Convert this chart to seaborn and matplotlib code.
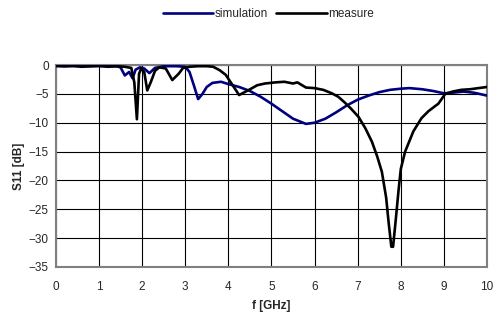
import numpy as np
import pandas as pd
import seaborn as sns
import matplotlib
matplotlib.use("Agg")
import matplotlib.pyplot as plt

# simulation curve (f in GHz, S11 in dB)
sim_f = [0.0, 0.5, 1.0, 1.4, 1.5, 1.6, 1.7, 1.78, 1.85, 1.95, 2.05, 2.17, 2.3, 2.5,
         2.8, 3.0, 3.1, 3.2, 3.3, 3.4, 3.5, 3.63, 3.83, 4.0, 4.25, 4.5, 4.75, 5.0,
         5.25, 5.5, 5.8, 6.0, 6.25, 6.5, 6.75, 7.0, 7.25, 7.5, 7.75, 8.0, 8.2,
         8.5, 8.75, 9.0, 9.2, 9.45, 9.7, 10.0]
sim_db = [-0.2, -0.2, -0.2, -0.2, -0.4, -1.8, -1.2, -2.3, -0.8, -0.4, -0.6, -1.4,
          -0.5, -0.2, -0.2, -0.3, -1.2, -3.5, -5.9, -5.0, -3.8, -3.1, -2.9, -3.3,
          -3.8, -4.5, -5.5, -6.7, -8.0, -9.3, -10.2, -10.0, -9.3, -8.2, -7.0, -6.0,
          -5.3, -4.7, -4.3, -4.1, -4.0, -4.2, -4.5, -4.9, -4.8, -4.6, -4.8, -5.3]

# measured curve
meas_f = [0.0, 0.2, 0.4, 0.6, 0.8, 1.0, 1.2, 1.4, 1.6, 1.75, 1.82, 1.88, 1.93,
          1.98, 2.05, 2.12, 2.2, 2.3, 2.4, 2.55, 2.7, 2.85, 2.95, 3.1, 3.3, 3.5,
          3.65, 3.8, 3.94, 4.1, 4.25, 4.48, 4.67, 4.85, 5.1, 5.3, 5.5, 5.6, 5.8,
          6.0, 6.2, 6.4, 6.55, 6.7, 6.85, 7.02, 7.18, 7.33, 7.45, 7.56, 7.66,
          7.72, 7.78, 7.82, 7.88, 7.95, 8.0, 8.1, 8.29, 8.48, 8.64, 8.78, 8.87,
          9.03, 9.2, 9.4, 9.6, 9.8, 10.0]
meas_db = [-0.1, -0.2, -0.1, -0.3, -0.2, -0.1, -0.3, -0.2, -0.3, -0.5, -3.0, -9.4,
           -1.5, -0.6, -1.2, -4.4, -3.0, -1.0, -0.4, -0.6, -2.6, -1.5, -0.5, -0.3,
           -0.2, -0.2, -0.3, -0.9, -1.7, -3.5, -5.2, -4.3, -3.5, -3.2, -3.0, -2.9,
           -3.2, -3.0, -3.9, -4.0, -4.3, -4.9, -5.5, -6.5, -7.6, -9.0, -11.0,
           -13.3, -15.8, -18.5, -23.0, -27.5, -31.5, -31.5, -27.0, -21.5, -18.0,
           -15.0, -11.5, -9.2, -8.0, -7.2, -6.7, -5.0, -4.6, -4.3, -4.2, -4.0, -3.8]

df = pd.concat([
    pd.DataFrame({"f": sim_f, "S11": sim_db, "series": "simulation"}),
    pd.DataFrame({"f": meas_f, "S11": meas_db, "series": "measure"}),
])

sns.set_style("white")
plt.rcParams['font.family'] = ['Liberation Sans', 'DejaVu Sans']
fs = 8.5

fig = plt.figure(figsize=(4.94, 3.22), dpi=100)
ax = fig.add_axes([0.113, 0.171, 0.873, 0.627])

sns.lineplot(data=df, x="f", y="S11", hue="series", sort=False, estimator=None,
             palette={"simulation": "#000080", "measure": "#000000"},
             linewidth=1.9, ax=ax, legend=False, zorder=3)

ax.set_xlim(0, 10)
ax.set_ylim(-35, 0)
ax.set_xticks(range(0, 11))
ax.set_yticks(range(-35, 1, 5))
ax.grid(True, color="black", linewidth=0.8)
for s in ax.spines.values():
    s.set_color("#808080")
    s.set_linewidth(1.5)
ax.tick_params(axis="both", direction="out", length=3, width=0.9, color="black",
               labelsize=fs, pad=2)
ax.tick_params(axis="x", pad=7)
ax.set_xlabel("f [GHz]", fontweight="bold", fontsize=fs, labelpad=5)
ax.set_ylabel("S11 [dB]", fontweight="bold", fontsize=fs, labelpad=3)

# legend at the top, centred
handles = [plt.Line2D([], [], color="#000080", linewidth=1.9),
           plt.Line2D([], [], color="black", linewidth=1.9)]
fig.legend(handles, ["simulation", "measure"], loc="center", bbox_to_anchor=(0.543, 0.955),
           ncol=2, frameon=False, fontsize=fs, handlelength=4.3, handletextpad=0.1,
           columnspacing=0.7)

fig.savefig("out.png", dpi=100)
